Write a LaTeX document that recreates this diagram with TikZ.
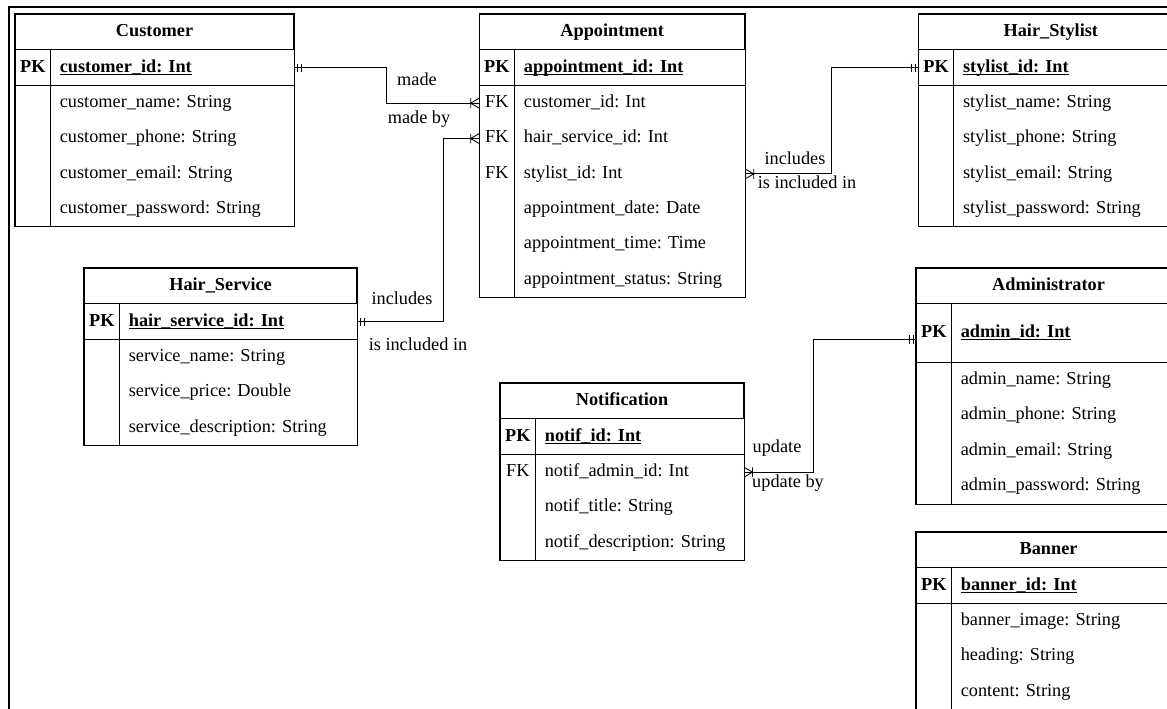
\documentclass[tikz,border=0pt]{standalone}
\usepackage{fontspec}
\setmainfont{Liberation Serif}
\usetikzlibrary{positioning}
\frenchspacing

% underline for key attributes
\newcommand\pkul[1]{\setbox0\hbox{#1}\rlap{\rule[-1.8pt]{\wd0}{0.7pt}}\box0}

% ER end marks
\pgfdeclarearrow{
  name = ermany,
  setup code = {
    \pgfarrowssettipend{0pt}
    \pgfarrowssetlineend{0pt}
    \pgfarrowssetvisualbackend{-6pt}
    \pgfarrowssetbackend{-6pt}
  },
  drawing code = {
    \pgfsetdash{}{0pt}
    \pgfpathmoveto{\pgfqpoint{0pt}{3.5pt}}
    \pgfpathlineto{\pgfqpoint{-6pt}{0pt}}
    \pgfpathlineto{\pgfqpoint{0pt}{-3.5pt}}
    \pgfpathmoveto{\pgfqpoint{-6pt}{3.5pt}}
    \pgfpathlineto{\pgfqpoint{-6pt}{-3.5pt}}
    \pgfusepathqstroke
  }
}
\pgfdeclarearrow{
  name = erone,
  setup code = {
    \pgfarrowssettipend{0pt}
    \pgfarrowssetlineend{0pt}
    \pgfarrowssetvisualbackend{-5pt}
    \pgfarrowssetbackend{-5pt}
  },
  drawing code = {
    \pgfsetdash{}{0pt}
    \pgfpathmoveto{\pgfqpoint{-2pt}{3pt}}
    \pgfpathlineto{\pgfqpoint{-2pt}{-3pt}}
    \pgfpathmoveto{\pgfqpoint{-5pt}{3pt}}
    \pgfpathlineto{\pgfqpoint{-5pt}{-3pt}}
    \pgfusepathqstroke
  }
}

\begin{document}
\begin{tikzpicture}[font=\fontsize{13}{15}\selectfont]
\tikzstyle{ttl}=[rectangle,draw,line width=0.8pt,execute at begin node=\bfseries,minimum height=0.875cm,inner sep=0pt,text height=9pt,text depth=3pt]
\tikzstyle{keyc}=[rectangle,minimum width=0.875cm,minimum height=0.87cm,inner sep=0pt,text height=9pt,text depth=3pt]
\tikzset{attr/.style={rectangle,minimum height=0.87cm,inner ysep=0pt,inner xsep=0.225cm,text width=#1,align=left,text height=9pt,text depth=3pt}}
\tikzstyle{tbl}=[line width=0.8pt]
\tikzstyle{rel}=[line width=0.6pt]
\tikzstyle{lbl}=[inner sep=1pt]

\useasboundingbox (0,0) rectangle (29.175,-17.725);
\clip (0,0) rectangle (29.175,-17.725);
\draw[tbl] (0.225,-18) -- (0.225,-0.175) -- (30,-0.175);

% Customer
\node[ttl,minimum width=6.95cm,anchor=north west] (cuT) at (0.375,-0.35) {Customer};
\node[keyc,anchor=north west] (cuK0) at (cuT.south west) {\textbf{PK}};
\node[attr=5.625cm,right=0pt of cuK0] (cuA0) {\textbf{\pkul{customer\_id: Int}}};
\node[attr=5.625cm,below=0pt of cuA0] (cuA1) {customer\_name: String};
\node[attr=5.625cm,below=0pt of cuA1] (cuA2) {customer\_phone: String};
\node[attr=5.625cm,below=0pt of cuA2] (cuA3) {customer\_email: String};
\node[attr=5.625cm,below=0pt of cuA3] (cuA4) {customer\_password: String};
\draw[tbl] (cuT.north west) rectangle (cuA4.south east);
\draw[tbl] (cuK0.south west) -- (cuA0.south east);
\draw[tbl] (cuK0.north east) -- (cuK0.north east |- cuA4.south);

% Appointment
\node[ttl,minimum width=6.625cm,right=4.625cm of cuT] (apT) {Appointment};
\node[keyc,anchor=north west] (apK0) at (apT.south west) {\textbf{PK}};
\node[attr=5.3cm,right=0pt of apK0] (apA0) {\textbf{\pkul{appointment\_id: Int}}};
\node[attr=5.3cm,below=0pt of apA0] (apA1) {customer\_id: Int};
\node[attr=5.3cm,below=0pt of apA1] (apA2) {hair\_service\_id: Int};
\node[attr=5.3cm,below=0pt of apA2] (apA3) {stylist\_id: Int};
\node[attr=5.3cm,below=0pt of apA3] (apA4) {appointment\_date: Date};
\node[attr=5.3cm,below=0pt of apA4] (apA5) {appointment\_time: Time};
\node[attr=5.3cm,below=0pt of apA5] (apA6) {appointment\_status: String};
\node[keyc,left=0pt of apA1] (apK1) {FK};
\node[keyc,left=0pt of apA2] (apK2) {FK};
\node[keyc,left=0pt of apA3] (apK3) {FK};
\draw[tbl] (apT.north west) rectangle (apA6.south east);
\draw[tbl] (apK0.south west) -- (apA0.south east);
\draw[tbl] (apK0.north east) -- (apK0.north east |- apA6.south);

% Hair_Stylist
\node[ttl,minimum width=6.6cm,right=4.325cm of apT] (hsT) {Hair\_Stylist};
\node[keyc,anchor=north west] (hsK0) at (hsT.south west) {\textbf{PK}};
\node[attr=5.275cm,right=0pt of hsK0] (hsA0) {\textbf{\pkul{stylist\_id: Int}}};
\node[attr=5.275cm,below=0pt of hsA0] (hsA1) {stylist\_name: String};
\node[attr=5.275cm,below=0pt of hsA1] (hsA2) {stylist\_phone: String};
\node[attr=5.275cm,below=0pt of hsA2] (hsA3) {stylist\_email: String};
\node[attr=5.275cm,below=0pt of hsA3] (hsA4) {stylist\_password: String};
\draw[tbl] (hsT.north west) rectangle (hsA4.south east);
\draw[tbl] (hsK0.south west) -- (hsA0.south east);
\draw[tbl] (hsK0.north east) -- (hsK0.north east |- hsA4.south);

% Hair_Service
\node[ttl,minimum width=6.8cm,anchor=north west] (svT) at (2.1,-6.7) {Hair\_Service};
\node[keyc,anchor=north west] (svK0) at (svT.south west) {\textbf{PK}};
\node[attr=5.475cm,right=0pt of svK0] (svA0) {\textbf{\pkul{hair\_service\_id: Int}}};
\node[attr=5.475cm,below=0pt of svA0] (svA1) {service\_name: String};
\node[attr=5.475cm,below=0pt of svA1] (svA2) {service\_price: Double};
\node[attr=5.475cm,below=0pt of svA2] (svA3) {service\_description: String};
\draw[tbl] (svT.north west) rectangle (svA3.south east);
\draw[tbl] (svK0.south west) -- (svA0.south east);
\draw[tbl] (svK0.north east) -- (svK0.north east |- svA3.south);

% Notification
\node[ttl,minimum width=6.075cm,anchor=north west] (ntT) at (12.5,-9.575) {Notification};
\node[keyc,anchor=north west] (ntK0) at (ntT.south west) {\textbf{PK}};
\node[attr=4.75cm,right=0pt of ntK0] (ntA0) {\textbf{\pkul{notif\_id: Int}}};
\node[attr=4.75cm,below=0pt of ntA0] (ntA1) {notif\_admin\_id: Int};
\node[attr=4.75cm,below=0pt of ntA1] (ntA2) {notif\_title: String};
\node[attr=4.75cm,below=0pt of ntA2] (ntA3) {notif\_description: String};
\node[keyc,left=0pt of ntA1] (ntK1) {FK};
\draw[tbl] (ntT.north west) rectangle (ntA3.south east);
\draw[tbl] (ntK0.south west) -- (ntA0.south east);
\draw[tbl] (ntK0.north east) -- (ntK0.north east |- ntA3.south);

% Administrator
\node[ttl,minimum width=6.6cm,anchor=north west] (adT) at (22.9,-6.7) {Administrator};
\node[keyc,minimum height=1.45cm,anchor=north west] (adK0) at (adT.south west) {\textbf{PK}};
\node[attr=5.275cm,minimum height=1.45cm,right=0pt of adK0] (adA0) {\textbf{\pkul{admin\_id: Int}}};
\node[attr=5.275cm,below=0pt of adA0] (adA1) {admin\_name: String};
\node[attr=5.275cm,below=0pt of adA1] (adA2) {admin\_phone: String};
\node[attr=5.275cm,below=0pt of adA2] (adA3) {admin\_email: String};
\node[attr=5.275cm,below=0pt of adA3] (adA4) {admin\_password: String};
\draw[tbl] (adT.north west) rectangle (adA4.south east);
\draw[tbl] (adK0.south west) -- (adA0.south east);
\draw[tbl] (adK0.north east) -- (adK0.north east |- adA4.south);

% Banner
\node[ttl,minimum width=6.6cm,anchor=north west] (bnT) at (22.9,-13.3) {Banner};
\node[keyc,anchor=north west] (bnK0) at (bnT.south west) {\textbf{PK}};
\node[attr=5.275cm,right=0pt of bnK0] (bnA0) {\textbf{\pkul{banner\_id: Int}}};
\node[attr=5.275cm,below=0pt of bnA0] (bnA1) {banner\_image: String};
\node[attr=5.275cm,below=0pt of bnA1] (bnA2) {heading: String};
\node[attr=5.275cm,below=0pt of bnA2] (bnA3) {content: String};
\draw[tbl] (bnT.north west) rectangle (bnA3.south east);
\draw[tbl] (bnK0.south west) -- (bnA0.south east);
\draw[tbl] (bnK0.north east) -- (bnK0.north east |- bnA3.south);

% Relationships
\draw[rel,erone-ermany] (cuA0.east) -- ++(2.3,0) |- (apK1.west);
\draw[rel,erone-ermany] (svA0.east) -- ++(2.15,0) |- (apK2.west);
\draw[rel,ermany-erone] (apA3.east) -- ++(2.15,0) |- (hsK0.west);
\draw[rel,ermany-erone] (ntA1.east) -- ++(1.725,0) |- ([yshift=-0.15cm]adK0.west);

\node[lbl] (mdL) at (10.425,-1.975) {made};
\node[lbl] (mbL) at (10.475,-2.975) {made by};
\node[lbl] (inL1) at (10.05,-7.45) {includes};
\node[lbl] (icL1) at (10.45,-8.6) {is included in};
\node[lbl] (inL2) at (19.875,-3.95) {includes};
\node[lbl] (icL2) at (20.175,-4.55) {is included in};
\node[lbl] (upL) at (19.425,-11.2) {update};
\node[lbl] (ubL) at (19.7,-12.075) {update by};
\end{tikzpicture}
\end{document}
